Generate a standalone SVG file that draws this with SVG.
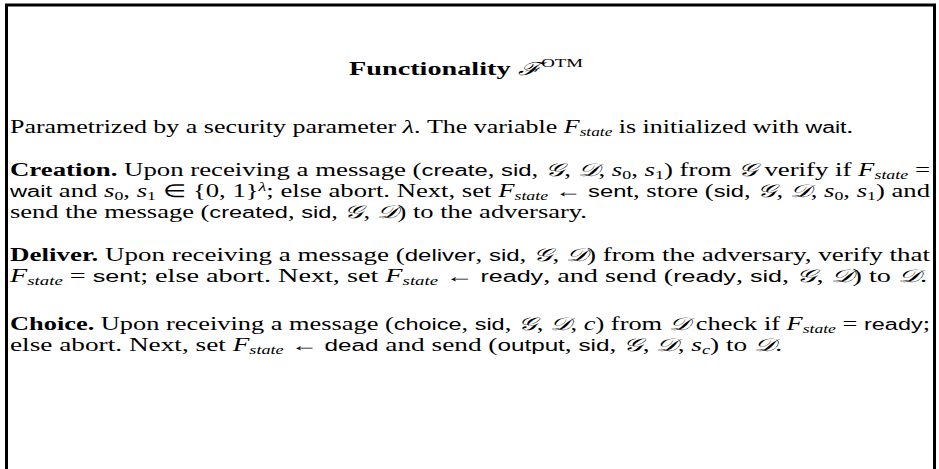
<svg xmlns="http://www.w3.org/2000/svg" width="939" height="469" viewBox="0 0 939 469">
<style>
.t{font-family:"Liberation Serif","Times New Roman",serif;font-size:18px;fill:#000}
.b{font-weight:bold}
.i{font-style:italic}
.sf{font-family:"Liberation Sans",Arial,sans-serif;font-size:16px}
.s{font-size:12px}
.c{font-family:"DejaVu Serif","Liberation Serif",serif;font-style:italic}
</style>
<rect width="939" height="469" fill="#fff"/>
<g id="frame"><path d="M6.5,469 V5 H934.5 V469" fill="none" stroke="#000" stroke-width="3"/></g>
<g id="title"><text class="t b" x="349" y="75" textLength="234" lengthAdjust="spacingAndGlyphs" font-size="20">Functionality <tspan class="c" font-weight="normal">ℱ</tspan><tspan font-weight="normal" class="s" font-size="13" dy="-8">OTM</tspan></text></g>
<g id="intro"><text class="t" x="10" y="133" textLength="843" lengthAdjust="spacingAndGlyphs">Parametrized by a security parameter <tspan class="i">λ</tspan>. The variable <tspan class="i">F</tspan><tspan class="i s" dy="3">state</tspan><tspan dy="-3"> is initialized with </tspan><tspan class="sf">wait</tspan>.</text></g>
<g id="creation">
<text class="t" x="10" y="176" textLength="920" lengthAdjust="spacingAndGlyphs"><tspan class="b">Creation.</tspan> Upon receiving a message (<tspan class="sf">create</tspan>, <tspan class="sf">sid</tspan>, <tspan class="c">𝒢</tspan>, <tspan class="c">𝒟</tspan>, <tspan class="i">s</tspan><tspan class="s" dy="3">0</tspan><tspan dy="-3">, </tspan><tspan class="i">s</tspan><tspan class="s" dy="3">1</tspan><tspan dy="-3">) from </tspan><tspan class="c">𝒢</tspan> verify if <tspan class="i">F</tspan><tspan class="i s" dy="3">state</tspan><tspan dy="-3"> =</tspan></text>
<text class="t" x="10" y="197" textLength="920" lengthAdjust="spacingAndGlyphs"><tspan class="sf">wait</tspan> and <tspan class="i">s</tspan><tspan class="s" dy="3">0</tspan><tspan dy="-3">, </tspan><tspan class="i">s</tspan><tspan class="s" dy="3">1</tspan><tspan dy="-3"> ∈ {0, 1}</tspan><tspan class="i s" dy="-6">λ</tspan><tspan dy="6">; else abort. Next, set </tspan><tspan class="i">F</tspan><tspan class="i s" dy="3">state</tspan><tspan dy="-3"> ← </tspan><tspan class="sf">sent</tspan>, store (<tspan class="sf">sid</tspan>, <tspan class="c">𝒢</tspan>, <tspan class="c">𝒟</tspan>, <tspan class="i">s</tspan><tspan class="s" dy="3">0</tspan><tspan dy="-3">, </tspan><tspan class="i">s</tspan><tspan class="s" dy="3">1</tspan><tspan dy="-3">) and</tspan></text>
<text class="t" x="10" y="218" textLength="577" lengthAdjust="spacingAndGlyphs">send the message (<tspan class="sf">created</tspan>, <tspan class="sf">sid</tspan>, <tspan class="c">𝒢</tspan>, <tspan class="c">𝒟</tspan>) to the adversary.</text>
</g>
<g id="deliver">
<text class="t" x="10" y="261" textLength="920" lengthAdjust="spacingAndGlyphs"><tspan class="b">Deliver.</tspan> Upon receiving a message (<tspan class="sf">deliver</tspan>, <tspan class="sf">sid</tspan>, <tspan class="c">𝒢</tspan>, <tspan class="c">𝒟</tspan>) from the adversary, verify that</text>
<text class="t" x="10" y="282" textLength="917" lengthAdjust="spacingAndGlyphs"><tspan class="i">F</tspan><tspan class="i s" dy="3">state</tspan><tspan dy="-3"> = </tspan><tspan class="sf">sent</tspan>; else abort. Next, set <tspan class="i">F</tspan><tspan class="i s" dy="3">state</tspan><tspan dy="-3"> ← </tspan><tspan class="sf">ready</tspan>, and send (<tspan class="sf">ready</tspan>, <tspan class="sf">sid</tspan>, <tspan class="c">𝒢</tspan>, <tspan class="c">𝒟</tspan>) to <tspan class="c">𝒟</tspan>.</text>
</g>
<g id="choice">
<text class="t" x="10" y="330" textLength="920" lengthAdjust="spacingAndGlyphs"><tspan class="b">Choice.</tspan> Upon receiving a message (<tspan class="sf">choice</tspan>, <tspan class="sf">sid</tspan>, <tspan class="c">𝒢</tspan>, <tspan class="c">𝒟</tspan>, <tspan class="i">c</tspan>) from <tspan class="c">𝒟</tspan> check if <tspan class="i">F</tspan><tspan class="i s" dy="3">state</tspan><tspan dy="-3"> = </tspan><tspan class="sf">ready</tspan>;</text>
<text class="t" x="10" y="351" textLength="772" lengthAdjust="spacingAndGlyphs">else abort. Next, set <tspan class="i">F</tspan><tspan class="i s" dy="3">state</tspan><tspan dy="-3"> ← </tspan><tspan class="sf">dead</tspan> and send (<tspan class="sf">output</tspan>, <tspan class="sf">sid</tspan>, <tspan class="c">𝒢</tspan>, <tspan class="c">𝒟</tspan>, <tspan class="i">s</tspan><tspan class="i s" dy="3">c</tspan><tspan dy="-3">) to </tspan><tspan class="c">𝒟</tspan>.</text>
</g>
</svg>
